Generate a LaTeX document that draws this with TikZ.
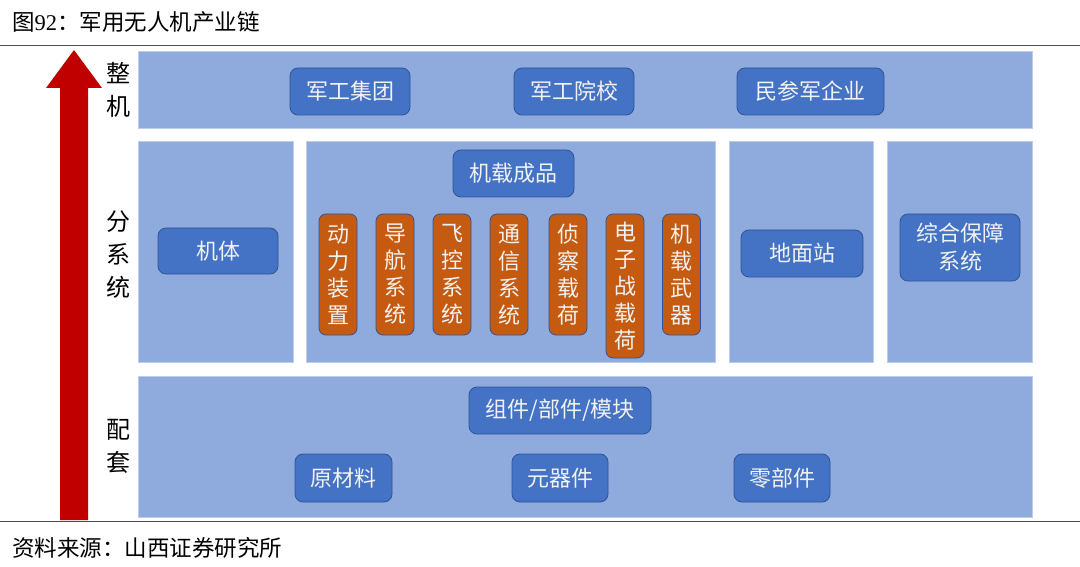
\documentclass[tikz,border=0pt]{standalone}
\usepackage{fontspec}
\setmainfont{Noto Sans CJK SC}
\newfontfamily\latinserif{Liberation Serif}
\definecolor{bandblue}{HTML}{8FAADC}
\definecolor{boxblue}{HTML}{4472C4}
\definecolor{boxedge}{HTML}{2F5597}
\definecolor{boxorange}{HTML}{C55A11}
\definecolor{arrowred}{HTML}{C00000}
\definecolor{txtlight}{HTML}{F2F2F2}
\begin{document}
\begin{tikzpicture}[x=1pt,y=-1pt,
  band/.style={draw=bandblue!60!white,line width=0.8pt,fill=bandblue,inner sep=0pt},
  bluebox/.style={draw=boxedge,line width=0.8pt,fill=boxblue,rounded corners=8pt,inner sep=0pt,
    text=txtlight,font=\fontsize{22}{28}\selectfont,align=center},
  orangebox/.style={draw=boxedge,line width=0.8pt,fill=boxorange,rounded corners=7pt,inner sep=0pt,
    text=txtlight,font=\fontsize{22}{27}\selectfont,align=center,minimum width=38pt},
  sidelabel/.style={font=\fontsize{24}{33}\selectfont,align=center,text=black,inner sep=0pt},
  rule/.style={draw=black!70,line width=1pt}]
\useasboundingbox (0,0) rectangle (1080,567);
% title and source
\node[anchor=west,inner sep=0pt,font=\fontsize{22.5}{26}\selectfont] (title) at (12,22) {图{\latinserif 92}：军用无人机产业链};
\coordinate (tl) at (0,46); \coordinate (tr) at (1080,46);
\draw[rule] (tl) -- (tr);
\coordinate (bl) at (0,521); \coordinate (br) at (1080,521);
\draw[rule] (bl) -- (br);
\node[anchor=west,inner sep=0pt,font=\fontsize{22.5}{26}\selectfont] (source) at (12,548) {资料来源：山西证券研究所};
% arrow
\fill[arrowred] (60,520) -- (60,88) -- (46,88) -- (74,50) -- (102,88) -- (88,88) -- (88,520) -- cycle;
% side labels
\node[sidelabel] (l1) at (118,90) {整\\机};
\node[sidelabel] (l2) at (118,255) {分\\系\\统};
\node[sidelabel] (l3) at (118,446) {配\\套};
% bands
\node[band,minimum width=894pt,minimum height=77pt] (band1) at (585,89.5) {};
\node[band,minimum width=155pt,minimum height=221pt] (band2a) at (215.5,251.5) {};
\node[band,minimum width=409pt,minimum height=221pt] (band2b) at (510.5,251.5) {};
\node[band,minimum width=144pt,minimum height=221pt] (band2c) at (801,251.5) {};
\node[band,minimum width=145pt,minimum height=221pt] (band2d) at (959.5,251.5) {};
\node[band,minimum width=894pt,minimum height=141pt] (band3) at (585,446.5) {};
% top row
\node[bluebox,minimum width=120pt,minimum height=47pt] (jgjt) at (350,91.5) {军工集团};
\node[bluebox,minimum width=120pt,minimum height=47pt] (jgyx) at (574,91.5) {军工院校};
\node[bluebox,minimum width=147pt,minimum height=47pt] (mcj) at (810.5,91.5) {民参军企业};
% middle row
\node[bluebox,minimum width=120pt,minimum height=46pt] (jt) at (218,251) {机体};
\node[bluebox,minimum width=121pt,minimum height=47pt] (jzcp) at (513.5,173.5) {机载成品};
\node[bluebox,minimum width=122pt,minimum height=47pt] (dmz) at (802,253.5) {地面站};
\node[bluebox,minimum width=120pt,minimum height=67pt] (zhbz) at (960,247.5) {综合保障\\系统};
% orange boxes
\node[orangebox,minimum height=121pt] (o1) at (338,274.5) {动\\力\\装\\置};
\node[orangebox,minimum height=121pt] (o2) at (395,274.5) {导\\航\\系\\统};
\node[orangebox,minimum height=121pt] (o3) at (452,274.5) {飞\\控\\系\\统};
\node[orangebox,minimum height=121pt] (o4) at (509,274.5) {通\\信\\系\\统};
\node[orangebox,minimum height=121pt] (o5) at (568,274.5) {侦\\察\\载\\荷};
\node[orangebox,minimum height=144pt] (o6) at (625,286) {电\\子\\战\\载\\荷};
\node[orangebox,minimum height=121pt] (o7) at (681.5,274.5) {机\\载\\武\\器};
% bottom row
\node[bluebox,minimum width=182pt,minimum height=47pt] (zj) at (560,410.5) {组件/部件/模块};
\node[bluebox,minimum width=97pt,minimum height=48pt] (ycl) at (343.5,478) {原材料};
\node[bluebox,minimum width=96pt,minimum height=48pt] (yqj) at (560,478) {元器件};
\node[bluebox,minimum width=96pt,minimum height=48pt] (lbj) at (782,478) {零部件};
\end{tikzpicture}
\end{document}
